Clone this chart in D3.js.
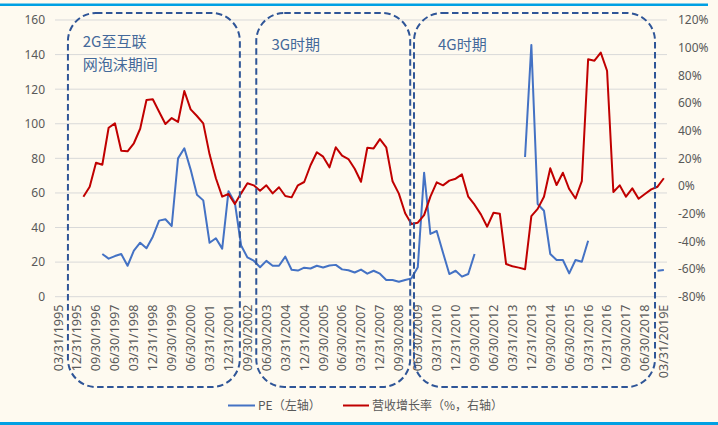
<!DOCTYPE html>
<html>
<head>
<meta charset="utf-8">
<script src="https://cdn.jsdelivr.net/npm/d3@7"></script>
<style>
  html, body { margin: 0; padding: 0; background: #fefaf0; }
  svg { display: block; }
  text { font-family: "Noto Sans CJK SC", "Noto Sans", sans-serif; }
</style>
</head>
<body>
<svg id="chart" width="718" height="425"></svg>
<script>
// Quarter-end categories, 03/31/1995 .. 03/31/2019E
const quarterEnds = ["03/31", "06/30", "09/30", "12/31"];
const categories = [];
for (let y = 1995; y <= 2019; y++) {
  for (const q of quarterEnds) {
    if (y === 2019 && q !== "03/31") break;
    categories.push(y === 2019 ? `${q}/${y}E` : `${q}/${y}`);
  }
}

// Axis labels shown on the category axis
const tickLabels = [
  "03/31/1995", "12/31/1995", "09/30/1996", "06/30/1997", "03/31/1998", "12/31/1998",
  "09/30/1999", "06/30/2000", "03/31/2001", "12/31/2001", "09/30/2002", "06/30/2003",
  "03/31/2004", "12/31/2004", "09/30/2005", "06/30/2006", "03/31/2007", "12/31/2007",
  "09/30/2008", "06/30/2009", "03/31/2010", "12/31/2010", "09/30/2011", "06/30/2012",
  "03/31/2013", "12/31/2013", "09/30/2014", "06/30/2015", "03/31/2016", "12/31/2016",
  "09/30/2017", "06/30/2018", "03/31/2019E"
];

const leftTicks = [0, 20, 40, 60, 80, 100, 120, 140, 160];
const rightTicks = [-80, -60, -40, -20, 0, 20, 40, 60, 80, 100, 120];

// PE (left axis), one value per quarter, null where not available
const peValues = [
  null, null, null, null, null, null, null, 24.7, 22, 23.5,
  24.7, 17.9, 26.6, 31.2, 28, 34.7, 44, 44.8, 40.9, 80,
  85.8, 73.5, 59, 55.7, 31.2, 33.8, 27.8, 61, 54.5, 29.6,
  22.7, 20.8, 17, 20.7, 17.9, 17.9, 23.2, 15.6, 15.1, 16.8,
  16.3, 17.9, 16.9, 18, 18.4, 15.8, 15.3, 14, 15.7, 13.3,
  15, 13.3, 9.7, 9.7, 8.6, 9.7, 10.6, 17, 71.7, 36.3,
  38, 25.4, 13.1, 15, 11.6, 13.1, 24.7, null, null, null,
  null, null, null, null, 80.8, 145.6, 53.6, 49.7, 24.7, 21.2,
  21.2, 13.5, 21.2, 20.2, 32.4, null, null, null, null, null,
  null, null, null, null, null, 15, 15.4
];

// Revenue growth, % (right axis)
const revenueGrowth = [
  null, null, null, null, -7.7, -0.5, 16.8, 15.4, 42.1, 45.3,
  25.5, 25.1, 30.9, 41.4, 62.2, 62.7, 53.7, 44.8, 49.1, 46.3,
  68.7, 55.4, 50.6, 45.3, 22.9, 5.6, -7.7, -5.8, -13, -5.3,
  2, 0.5, -3.4, 0.5, -5.3, -0.9, -7.2, -8.2, 0.5, 2.9,
  15, 24.4, 21.2, 13.5, 28, 21.9, 19.5, 12.5, 3.1, 27.7,
  27.2, 33.9, 28, 3.4, -5.5, -19.7, -27.5, -26.5, -21, -7.7,
  2.7, 0.5, 3.9, 5.3, 8.4, -7.7, -13.5, -20.5, -29.4, -19.3,
  -20, -56.4, -58, -59, -60.2, -21.7, -16.5, -7.7, 12.8, 0.7,
  9.6, -2.2, -9, 3.5, 91.6, 90.6, 96.4, 83.3, -4.3, 0.5,
  -7.7, -1.7, -9.2, -5.8, -2.4, -0.5, 5.6
];

// Period annotations, spans given in (fractional) quarter positions
const periodLabels = [["2G至互联", "网泡沫期间"], ["3G时期"], ["4G时期"]];
const periodSpans = [[1.55, 28.8], [31.4, 55.8], [56.4, 94.6]];
const periodLabelAt = [3.9, 33.8, 60.2];

const svg = d3.select("#chart");
const W = 718, H = 425;
const plot = { left: 55, right: 667, top: 20, bottom: 296.7 };

svg.append("rect").attr("width", W).attr("height", H).attr("fill", "#fefaf0");

// Top and bottom rules of the frame
svg.append("rect").attr("x", 0).attr("y", 3.5).attr("width", 708).attr("height", 2.5).attr("fill", "#00a0e3");
svg.append("rect").attr("x", 0).attr("y", 422).attr("width", 718).attr("height", 3).attr("fill", "#00a0e3");

const x = d3.scaleBand().domain(categories).range([plot.left, plot.right]).padding(0);
const xc = c => x(c) + x.bandwidth() / 2;
// continuous position along the category axis (quarter index -> px)
const xi = d3.scaleLinear().domain([0, categories.length - 1])
  .range([xc(categories[0]), xc(categories[categories.length - 1])]);
const yL = d3.scaleLinear().domain([0, 160]).range([plot.bottom, plot.top]);
const yR = d3.scaleLinear().domain([-80, 120]).range([plot.bottom, plot.top]);

// Horizontal gridlines from the left axis
svg.append("g")
  .selectAll("line")
  .data(leftTicks)
  .join("line")
  .attr("x1", plot.left).attr("x2", plot.right)
  .attr("y1", d => yL(d)).attr("y2", d => yL(d))
  .attr("stroke", "#d9d9d9").attr("stroke-width", 1);

// Left axis
const gL = svg.append("g")
  .attr("transform", `translate(${plot.left - 10},0)`)
  .call(d3.axisLeft(yL).tickValues(leftTicks).tickSize(0).tickPadding(0));
gL.select(".domain").remove();
gL.selectAll("text").attr("fill", "#595959").attr("font-size", 12)
  .style("font-family", "'Noto Sans', sans-serif");

// Right axis
const gR = svg.append("g")
  .attr("transform", `translate(${plot.right + 11},0)`)
  .call(d3.axisRight(yR).tickValues(rightTicks).tickSize(0).tickPadding(0)
    .tickFormat(d => d + "%"));
gR.select(".domain").remove();
gR.selectAll("text").attr("fill", "#595959").attr("font-size", 12)
  .style("font-family", "'Noto Sans', sans-serif");

// Category axis, labels rotated
const gX = svg.append("g")
  .attr("transform", `translate(0,${plot.bottom})`)
  .call(d3.axisBottom(x).tickValues(tickLabels).tickSize(0).tickPadding(0));
gX.select(".domain").remove();
gX.selectAll("text")
  .attr("fill", "#595959").attr("font-size", 12.5)
  .style("font-family", "'Noto Sans', sans-serif")
  .attr("text-anchor", "end")
  .attr("transform", "translate(0,8) rotate(-90)")
  .attr("dy", "0.35em").attr("y", 0).attr("x", 0);

// Series lines
const lineL = d3.line()
  .defined(d => d.v != null)
  .x(d => xc(d.c)).y(d => yL(d.v));
const lineR = d3.line()
  .defined(d => d.v != null)
  .x(d => xc(d.c)).y(d => yR(d.v));

const peData = categories.map((c, i) => ({ c, v: peValues[i] }));
const revData = categories.map((c, i) => ({ c, v: revenueGrowth[i] }));

svg.append("path").datum(peData).attr("d", lineL)
  .attr("fill", "none").attr("stroke", "#4472c4").attr("stroke-width", 2)
  .attr("stroke-linejoin", "round");
svg.append("path").datum(revData).attr("d", lineR)
  .attr("fill", "none").attr("stroke", "#c00000").attr("stroke-width", 2)
  .attr("stroke-linejoin", "round");

// Dashed period frames
const frameTop = 13, frameBottom = 387;
periodSpans.forEach((span, k) => {
  const x0 = xi(span[0]), x1 = xi(span[1]);
  svg.append("rect")
    .attr("x", x0).attr("y", frameTop)
    .attr("width", x1 - x0).attr("height", frameBottom - frameTop)
    .attr("rx", 28).attr("ry", 28)
    .attr("fill", "none").attr("stroke", "#2f5597").attr("stroke-width", 2)
    .attr("stroke-dasharray", "6.5,3.5");
  const lx = xi(periodLabelAt[k]);
  const t = svg.append("text")
    .attr("x", lx).attr("y", k === 0 ? 47 : 50)
    .attr("fill", "#44699a").attr("font-size", 15);
  periodLabels[k].forEach((s, j) => {
    t.append("tspan").attr("x", lx).attr("dy", j === 0 ? 0 : 23).text(s);
  });
});

// Legend
const legend = svg.append("g").attr("font-size", 12).attr("fill", "#595959");
legend.append("line").attr("x1", 228).attr("x2", 255).attr("y1", 405.5).attr("y2", 405.5)
  .attr("stroke", "#4472c4").attr("stroke-width", 2);
legend.append("text").attr("x", 258).attr("y", 410).attr("fill", "#595959").text("PE（左轴）");
legend.append("line").attr("x1", 343).attr("x2", 369).attr("y1", 405.5).attr("y2", 405.5)
  .attr("stroke", "#c00000").attr("stroke-width", 2);
legend.append("text").attr("x", 372).attr("y", 410).attr("fill", "#595959").text("营收增长率（%，右轴）");
</script>
</body>
</html>
